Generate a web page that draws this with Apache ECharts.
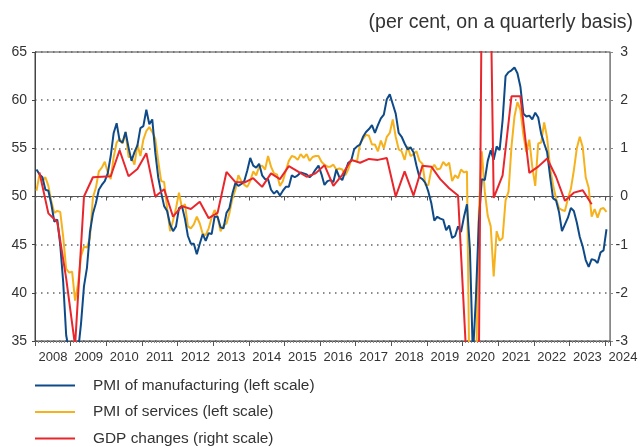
<!DOCTYPE html>
<html>
<head>
<meta charset="utf-8">
<script src="https://cdn.jsdelivr.net/npm/echarts@6/dist/echarts.min.js"></script>
<style>
html, body { margin: 0; padding: 0; background: #fff; }
#chart { width: 640px; height: 447px; }
</style>
</head>
<body>
<div id="chart"></div>
<script>
// monthly PMI readings, Jan 2008 - Jan 2024
var startYear = 2008
var manufacturing = [
    52.8, 52.3, 52.0, 50.7, 50.6, 49.2, 47.4, 47.6, 45.0, 41.1, 35.6, 33.9,
    34.4, 33.5, 33.9, 36.8, 40.7, 42.6, 46.3, 48.2, 49.3, 50.7, 51.2, 51.6,
    52.4, 54.2, 56.6, 57.6, 55.8, 55.6, 56.7, 55.1, 53.7, 54.6, 55.3, 57.1,
    57.3, 59.0, 57.5, 58.0, 54.6, 52.0, 50.4, 49.0, 48.5, 47.1, 46.4, 46.9,
    48.8, 49.0, 47.7, 45.9, 45.1, 45.1, 44.0, 45.1, 46.1, 45.4, 46.2, 46.1,
    47.9, 47.9, 46.8, 46.7, 48.3, 48.8, 50.3, 51.4, 51.1, 51.3, 51.6, 52.7,
    54.0, 53.2, 53.0, 53.4, 52.2, 51.8, 51.8, 50.7, 50.3, 50.6, 50.1, 50.6,
    51.0, 51.0, 52.2, 52.0, 52.2, 52.5, 52.4, 52.3, 52.0, 52.3, 52.8, 53.2,
    52.3, 51.2, 51.6, 51.7, 51.5, 52.8, 52.0, 51.7, 52.6, 53.5, 53.7, 54.9,
    55.2, 55.4, 56.2, 56.7, 57.0, 57.4, 56.6, 57.4, 58.1, 58.5, 60.1, 60.6,
    59.6, 58.6, 56.6, 56.2, 55.5, 54.9, 55.1, 54.6, 53.2, 52.0, 51.8, 51.4,
    50.5, 49.3, 47.5, 47.9, 47.7, 47.6, 46.5, 47.0, 45.7, 45.9, 46.9, 46.3,
    47.9, 49.2, 44.5, 33.4, 39.4, 47.4, 51.8, 51.7, 53.7, 54.8, 53.8, 55.2,
    54.8, 57.9, 62.5, 62.9, 63.1, 63.4, 62.8, 61.4, 58.6, 58.3, 58.4, 58.0,
    58.7, 58.2, 56.5, 55.5, 54.6, 52.1, 49.8, 49.6, 48.4, 46.4, 47.1, 47.8,
    48.8, 48.5, 47.3, 45.8, 44.8, 43.4, 42.7, 43.5, 43.4, 43.1, 44.2, 44.4,
    46.6
]
var services = [
    50.6, 52.3, 51.6, 52.0, 51.1, 49.5, 48.3, 48.5, 48.4, 45.8, 42.5, 42.1,
    42.2, 39.2, 40.9, 43.8, 44.8, 44.7, 45.7, 49.9, 50.9, 52.6, 53.0, 53.6,
    52.5, 51.8, 54.1, 55.6, 56.0, 55.5, 56.7, 54.1, 54.1, 53.3, 55.4, 54.2,
    55.9, 56.8, 57.2, 56.7, 56.0, 53.7, 51.6, 51.5, 48.8, 46.4, 47.5, 48.8,
    50.4, 48.8, 49.2, 46.9, 46.7, 47.1, 47.9, 47.2, 46.1, 46.0, 46.7, 47.8,
    48.6, 47.9, 46.4, 47.0, 47.2, 48.3, 49.8, 50.7, 52.2, 51.6, 51.2, 51.0,
    51.6, 52.6, 52.2, 53.1, 53.2, 52.8, 54.2, 53.1, 52.4, 52.3, 51.1, 51.6,
    52.7, 53.7, 54.2, 54.1, 53.8, 54.4, 54.0, 54.4, 53.7, 54.1, 54.2, 54.2,
    53.6, 53.3, 53.1, 53.1, 53.3, 52.8, 52.9, 52.8, 52.2, 52.8, 53.8, 53.7,
    53.7, 55.5, 56.0, 56.4, 56.3, 55.4, 55.4, 54.7, 55.8, 55.0, 56.2, 56.6,
    58.0, 56.2, 54.9, 54.7, 53.8, 55.2, 54.2, 54.4, 54.7, 53.7, 53.4, 51.2,
    51.2, 52.8, 53.3, 52.8, 52.9, 53.6, 53.2, 53.5, 51.6, 52.2, 51.9, 52.8,
    52.5, 52.6, 26.4, 12.0, 30.5, 48.3, 54.7, 50.5, 48.0, 46.9, 41.7, 46.4,
    45.4, 45.7, 49.6, 50.5, 55.2, 58.3, 59.8, 59.0, 56.4, 54.6, 55.9, 53.1,
    51.1, 55.5, 55.6, 57.7, 56.1, 53.0, 51.2, 49.8, 48.8, 48.6, 48.5, 49.8,
    50.8, 52.7, 55.0, 56.2, 55.1, 52.0, 50.9, 47.9, 48.7, 47.8, 48.7, 48.8,
    48.4
]
// quarterly GDP change, Q1 2008 - Q3 2023
var gdp = [
    0.50, -0.35, -0.53, -1.70,
    -3.10, 0.00, 0.40, 0.41,
    0.42, 0.96, 0.42, 0.57,
    0.90, 0.00, 0.15, -0.42,
    -0.20, -0.26, -0.11, -0.45,
    -0.34, 0.51, 0.30, 0.29,
    0.38, 0.20, 0.48, 0.36,
    0.63, 0.52, 0.41, 0.48,
    0.65, 0.22, 0.45, 0.76,
    0.70, 0.78, 0.76, 0.80,
    0.00, 0.52, 0.02, 0.64,
    0.62, 0.36, 0.17, 0.02,
    -3.60, -11.50, 12.40, -0.03,
    0.44, 2.08, 2.08, 0.49,
    0.62, 0.79, 0.41, -0.09,
    0.08, 0.13, -0.16
]
var leftTicks = [35, 40, 45, 50, 55, 60, 65]
var rightTicks = [-3, -2, -1, 0, 1, 2, 3]
var seriesNames = ['PMI of manufacturing (left scale)', 'PMI of services (left scale)', 'GDP changes (right scale)']
var colors = ['#0f4a88', '#f6b21c', '#e8262c']

var font = '"Liberation Sans", Arial, sans-serif'

function monthly(values) {
    return values.map(function (v, i) { return [startYear + (i + 0.5) / 12, v] })
}
function quarterly(values) {
    return values.map(function (v, i) { return [startYear + (i + 0.5) / 4, v] })
}

// one legend per row so the last row may run off the bottom edge
var legends = seriesNames.map(function (name, i) {
    return {
        orient: 'vertical',
        left: 35,
        top: 378 + i * 26.5,
        padding: 0,
        icon: 'rect',
        itemWidth: 40,
        itemHeight: 2,
        textStyle: { fontFamily: font, fontSize: 15.4, color: '#333', padding: [0, 0, 0, 13] },
        data: [name]
    }
})

var chart = echarts.init(document.getElementById('chart'))
chart.setOption({
    animation: false,
    title: {
        text: '(per cent, on a quarterly basis)',
        right: 2,
        top: 8,
        textStyle: { fontFamily: font, fontSize: 19.5, fontWeight: 'normal', color: '#333' }
    },
    grid: {
        left: 35, right: 30, top: 52, bottom: 106,
        show: true, borderColor: '#444', borderWidth: 1,
        outerBoundsMode: 'none'
    },
    legend: legends,
    xAxis: [{
        type: 'value',
        min: 2008, max: 2024.14, interval: 1,
        position: 'bottom',
        axisLine: { onZero: true, onZeroAxisIndex: 1, lineStyle: { color: '#555', width: 1.2 } },
        axisTick: { show: true, length: 4, lineStyle: { color: '#555' } },
        axisLabel: { show: false },
        splitLine: { show: false }
    }, {
        type: 'value',
        min: 2008, max: 2024.14, interval: 1,
        position: 'bottom',
        axisLine: { onZero: false, lineStyle: { color: '#555', width: 1.2 } },
        axisTick: { show: true, length: 5, lineStyle: { color: '#555' } },
        minorTick: { show: true, splitNumber: 12, length: 2, lineStyle: { color: '#888' } },
        axisLabel: {
            fontFamily: font, fontSize: 13, color: '#333', margin: 10,
            padding: [0, 0, 0, 36],
            formatter: function (v) { return Math.abs(v - Math.round(v)) < 1e-6 ? String(Math.round(v)) : '' }
        },
        splitLine: { show: false }
    }],
    yAxis: [{
        type: 'value',
        min: leftTicks[0], max: leftTicks[leftTicks.length - 1], interval: 5,
        position: 'left',
        axisLine: { show: true, lineStyle: { color: '#444' } },
        axisTick: { show: true, length: 3, lineStyle: { color: '#444' } },
        axisLabel: { fontFamily: font, fontSize: 14, color: '#333', margin: 8 },
        splitLine: { show: true, lineStyle: { color: '#666', width: 1.5, type: [1.5, 4.5] } }
    }, {
        type: 'value',
        min: rightTicks[0], max: rightTicks[rightTicks.length - 1], interval: 1,
        position: 'right',
        axisLine: { show: true, lineStyle: { color: '#888' } },
        axisTick: { show: true, length: 3, lineStyle: { color: '#888' } },
        axisLabel: { fontFamily: font, fontSize: 14, color: '#333', margin: 18, align: 'right' },
        splitLine: { show: false }
    }],
    series: [{
        name: seriesNames[0],
        type: 'line',
        data: monthly(manufacturing),
        yAxisIndex: 0,
        symbol: 'none',
        z: 3,
        itemStyle: { color: colors[0] },
        lineStyle: { color: colors[0], width: 2 }
    }, {
        name: seriesNames[1],
        type: 'line',
        data: monthly(services),
        yAxisIndex: 0,
        symbol: 'none',
        z: 2,
        itemStyle: { color: colors[1] },
        lineStyle: { color: colors[1], width: 2 }
    }, {
        name: seriesNames[2],
        type: 'line',
        data: quarterly(gdp),
        yAxisIndex: 1,
        symbol: 'none',
        z: 4,
        itemStyle: { color: colors[2] },
        lineStyle: { color: colors[2], width: 2 }
    }]
})
</script>
</body>
</html>
